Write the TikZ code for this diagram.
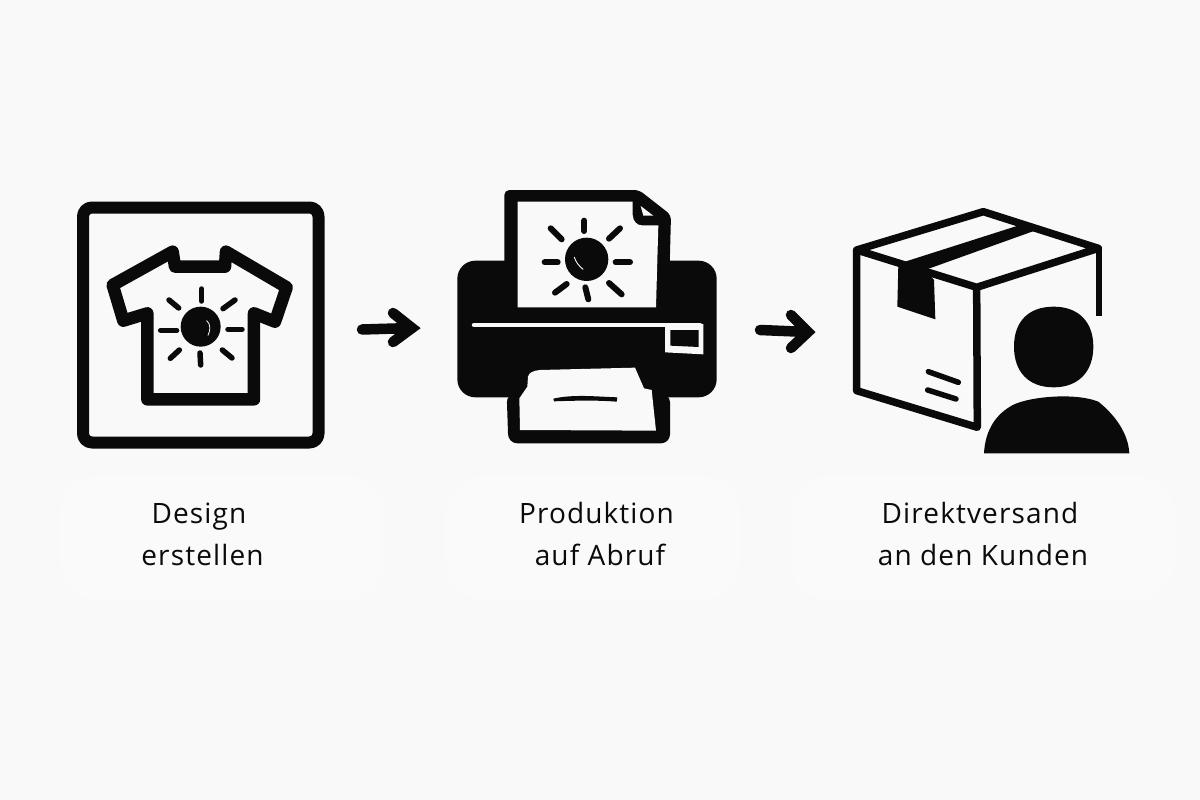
\documentclass[tikz,border=0pt]{standalone}
\usepackage{fontspec}
\setmainfont{Open Sans}[LetterSpace=4]
\definecolor{bgc}{HTML}{F9F9F9}
\definecolor{ink}{HTML}{0A0A0A}
\tikzset{
  label/.style={anchor=base,text=ink,inner sep=0pt,font=\fontsize{28}{32}\selectfont},
  iconline/.style={draw=ink,line width=12pt,line join=round,line cap=round},
  ray/.style={draw=ink,line width=5.5pt,line cap=round},
  flow/.style={draw=ink,line width=10.5pt,line join=miter,line cap=round},
  boxline/.style={draw=ink,line width=7.5pt,line join=round},
  zoomA/.style={shift={(60,190)},x=0.33333pt,y=-0.33333pt},
  zoomB/.style={shift={(440,180)},x=0.33333pt,y=-0.33333pt},
  zoomC/.style={shift={(740,200)},x=0.33333pt,y=-0.33333pt},
}
\begin{document}
\begin{tikzpicture}[x=1pt,y=-1pt]
\useasboundingbox (0,0) rectangle (1200,800);
\fill[bgc] (0,0) rectangle (1200,800);
% faint lighter patches behind the labels
\fill[white!25!bgc,rounded corners=40pt] (60,475) rectangle (385,600);
\fill[white!25!bgc,rounded corners=40pt] (445,475) rectangle (740,600);
\fill[white!25!bgc,rounded corners=40pt] (790,475) rectangle (1175,600);

% frame
\draw[iconline,rounded corners=9pt] (83,207.5) rectangle (318.5,442.5);

% T-shirt
\begin{scope}[zoomA]
\draw[iconline,line width=12.5pt] (262,628) -- (262,370) -- (190,392) -- (158,285) -- (338,185)
  -- (345,230) -- (495,230) -- (498,185) -- (680,292) -- (645,395) -- (582,370) -- (582,628) -- cycle;
\fill[ink] (422,410) circle (60);
\draw[bgc,line width=0.8pt,line cap=round] (440,392) .. controls (452,402) and (452,420) .. (444,436);
\foreach \a/\b/\c/\d in {425/297/425/333,327/330/356/354,525/330/489/356,302/421/350/421,
  504/418/546/418,331/505/358/480,420/489/422/525,487/480/516/504}
  \draw[ray] (\a,\b) -- (\c,\d);
\end{scope}

% arrow 1
\coordinate (a1s) at (362,329.5);
\coordinate (a1e) at (412,328);
\draw[flow] (a1s) -- (a1e) ++(-19,-15) -- ++(19,15) -- ++(-19,14);

% printer
\begin{scope}[zoomB]
% lower frame
\fill[ink,rounded corners=9pt] (200,640) -- (205,790) -- (690,790) -- (690,640) -- cycle;
% body
\fill[ink,rounded corners=18pt] (52,242) -- (830,242) -- (830,652) -- (52,652) -- cycle;
% paper outline
\fill[ink,rounded corners=5pt] (193,300) -- (193,30) -- (597,30) -- (693,105) -- (688,300) -- cycle;
% paper sheet
\fill[bgc] (233,65) -- (578,65) -- (578,105) .. controls (580,125) and (590,135) .. (605,136)
  -- (655,136) -- (648,382) -- (233,382) -- cycle;
\fill[bgc] (602,78) -- (640,107) -- (610,107) -- cycle;
% slit
\draw[bgc,line width=4.5pt,line cap=round] (102,435) -- (780,435);
% control panel
\fill[bgc] (675,432) -- (790,432) -- (790,523) -- (675,517) -- cycle;
\fill[ink] (691,450) -- (776,450) -- (776,501) -- (691,497) -- cycle;
% tray
\fill[bgc] (238,655) -- (262,620) -- (264,590) .. controls (266,578) and (280,572) .. (300,570)
  -- (585,563) -- (612,625) -- (635,630) -- (648,752) -- (240,750) -- cycle;
\fill[ink] (340,656) .. controls (400,642) and (470,650) .. (532,652) -- (530,665)
  .. controls (470,660) and (400,662) .. (342,664) -- cycle;
% sun
\fill[ink] (440,238) circle (65);
\draw[bgc,line width=0.9pt,line cap=round] (403,232) .. controls (408,248) and (418,258) .. (429,268);
\foreach \a/\b/\c/\d in {433/122/433/153,332/145/365/178,540/145/507/176,314/247/353/247,
  527/247/570/247,345/338/380/312,436/322/445/358,507/309/545/343}
  \draw[ray,line width=6pt] (\a,\b) -- (\c,\d);
\end{scope}

% arrow 2
\coordinate (a2s) at (760,330);
\coordinate (a2e) at (808,332);
\draw[flow] (a2s) -- (a2e) ++(-17,-17) -- ++(17,17) -- ++(-17,16);

% box
\begin{scope}[zoomC]
\draw[boxline] (350,150) -- (730,35) -- (1075,145) -- (710,262) -- cycle;
\draw[boxline] (350,150) -- (350,572) -- (712,682) -- (710,262);
\draw[draw=ink,line width=6pt] (1077,140) -- (1077,348);
\fill[ink] (492,186) -- (840,75) -- (890,90) -- (555,210) -- cycle;
\fill[ink] (475,195) -- (555,208) -- (582,240) -- (586,358) -- (472,320) -- cycle;
\draw[draw=ink,line width=5.5pt,line cap=round] (565,515) -- (655,547);
\draw[draw=ink,line width=5.5pt,line cap=round] (563,570) -- (648,597);
% person
\fill[ink] (941,320) .. controls (1015,320) and (1060,365) .. (1060,440)
  .. controls (1060,515) and (1015,562) .. (941,562)
  .. controls (865,562) and (822,515) .. (822,440)
  .. controls (822,365) and (865,320) .. (941,320) -- cycle;
\fill[ink] (732,760) .. controls (735,700) and (760,650) .. (810,620)
  .. controls (850,592) and (1000,575) .. (1075,605)
  .. controls (1125,645) and (1165,700) .. (1168,760) -- cycle;
\end{scope}

% labels
\node[label] (l1a) at (199,523.5) {Design};
\node[label] (l1b) at (202.5,565) {erstellen};
\node[label] (l2a) at (596.5,523.5) {Produktion};
\node[label] (l2b) at (600,565) {auf Abruf};
\node[label] (l3a) at (980,523.5) {Direktversand};
\node[label] (l3b) at (983,565) {an den Kunden};
\end{tikzpicture}
\end{document}
